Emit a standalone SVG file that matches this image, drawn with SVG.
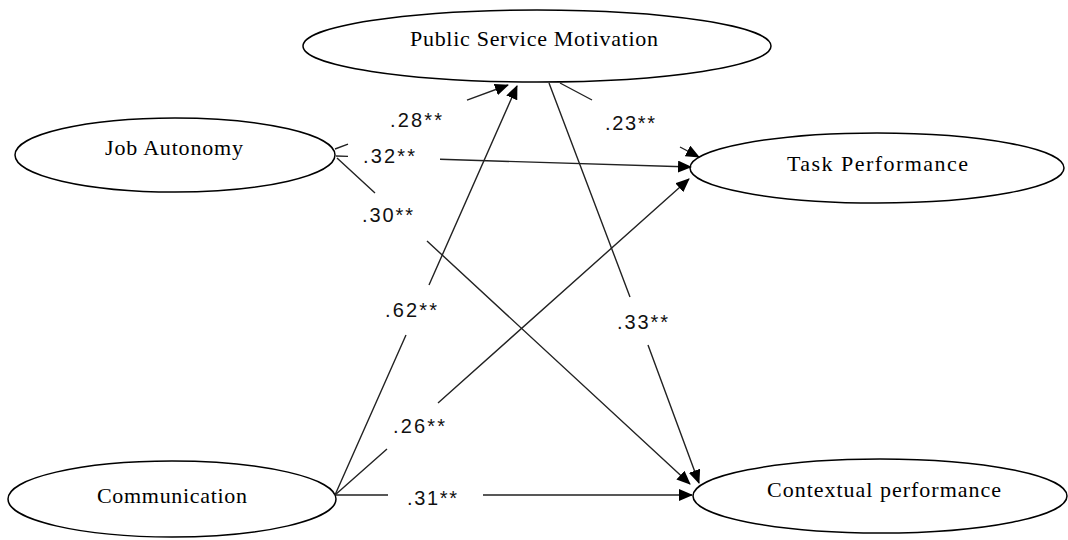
<svg xmlns="http://www.w3.org/2000/svg" width="1068" height="540" viewBox="0 0 1068 540">
<defs>
<style>
.node ellipse{fill:#fff;stroke:#000;stroke-width:1.5}
.node text{font-family:"Liberation Serif","Times New Roman",serif;font-size:22px;fill:#000}
.conn path{fill:none;stroke:#222;stroke-width:1.4;marker-end:url(#arr)}
.lbl{font-family:"Liberation Sans",Arial,sans-serif;font-size:20px;fill:#111}
</style>
<marker id="arr" markerUnits="userSpaceOnUse" markerWidth="14" markerHeight="12" viewBox="0 0 14 12" refX="13" refY="6" orient="auto">
<path d="M0,0 L14,6 L0,12 z" fill="#000"/>
</marker>
</defs>
<rect width="1068" height="540" fill="#fff"/>
<g id="psm" class="node"><ellipse cx="537" cy="46" rx="234" ry="36"/><text x="410" y="46" textLength="248" lengthAdjust="spacing">Public Service Motivation</text></g>
<g id="ja" class="node"><ellipse cx="175" cy="155" rx="160" ry="37"/><text x="105" y="155" textLength="138" lengthAdjust="spacing">Job Autonomy</text></g>
<g id="tp" class="node"><ellipse cx="877" cy="168" rx="187" ry="35"/><text x="787" y="171" textLength="181" lengthAdjust="spacing">Task Performance</text></g>
<g id="comm" class="node"><ellipse cx="172" cy="499" rx="164" ry="38"/><text x="97" y="503" textLength="150" lengthAdjust="spacing">Communication</text></g>
<g id="cp" class="node"><ellipse cx="880" cy="496" rx="187" ry="37"/><text x="767" y="497" textLength="234" lengthAdjust="spacing">Contextual performance</text></g>
<g id="connectors" class="conn">
<path d="M335,149 L348,144.2 M467,100.2 L508,85"/>
<path d="M336,156 L348,156.4 M440,159.3 L691,167"/>
<path d="M337,158 L375,193 M427,241 L690,484"/>
<path d="M335,495 L406,335 M429,285 L517,86"/>
<path d="M335,495 L387,449 M438,403 L689,179"/>
<path d="M336,495 L388,495 M483,495 L692,495"/>
<path d="M560,83 L592,100 M680,147 L699,157"/>
<path d="M549,83 L630,297 M648,345 L699,483"/>
</g>
<g id="labels">
<text class="lbl" x="390" y="127" textLength="52" lengthAdjust="spacing">.28**</text>
<text class="lbl" x="363" y="163" textLength="52" lengthAdjust="spacing">.32**</text>
<text class="lbl" x="362" y="222" textLength="51" lengthAdjust="spacing">.30**</text>
<text class="lbl" x="605" y="130" textLength="50" lengthAdjust="spacing">.23**</text>
<text class="lbl" x="385" y="317" textLength="52" lengthAdjust="spacing">.62**</text>
<text class="lbl" x="617" y="329" textLength="51" lengthAdjust="spacing">.33**</text>
<text class="lbl" x="393" y="433" textLength="52" lengthAdjust="spacing">.26**</text>
<text class="lbl" x="407" y="505" textLength="50" lengthAdjust="spacing">.31**</text>
</g>
</svg>
